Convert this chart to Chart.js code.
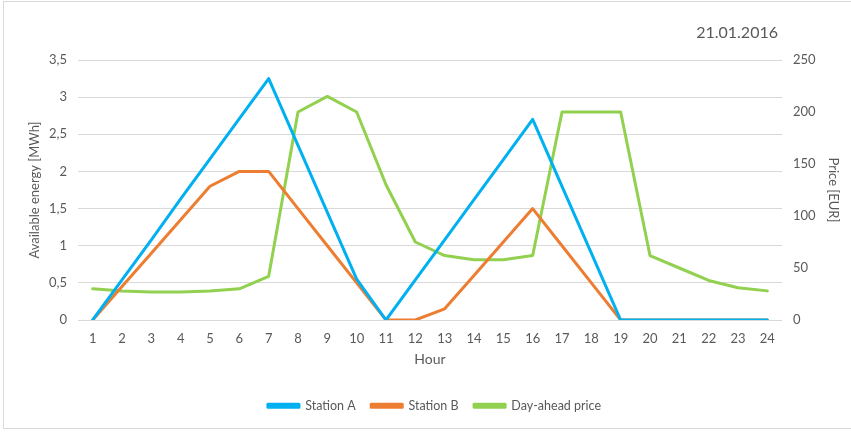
<!DOCTYPE html>
<html>
<head>
<meta charset="utf-8">
<script src="https://cdn.jsdelivr.net/npm/chart.js@4.4.1/dist/chart.umd.min.js"></script>
<style>
  html, body { margin: 0; padding: 0; background: #fff; }
  #wrap { position: relative; width: 851px; height: 432px; overflow: hidden; }
  #frame { position: absolute; left: 3px; top: 1px; width: 900px; height: 428px; border: 1px solid #d9d9d9; box-sizing: border-box; pointer-events: none; }
  #date { position: absolute; right: 73px; top: 22px; font-family: Lato, "Open Sans", sans-serif; font-size: 16px; color: #595959; }
  canvas { position: absolute; left: 0; top: 0; }
</style>
</head>
<body>
<div id="wrap">
  <div id="frame"></div>
  <canvas id="c" width="851" height="432"></canvas>
  <div id="date">21.01.2016</div>
</div>
<script>
// Hours of the day
const hours = ['1','2','3','4','5','6','7','8','9','10','11','12','13','14','15','16','17','18','19','20','21','22','23','24'];
// Available energy per station [MWh]
const stationA = [0, 0.54, 1.08, 1.63, 2.17, 2.71, 3.25, 2.35, 1.45, 0.55, 0, 0.54, 1.08, 1.62, 2.16, 2.7, 1.8, 0.9, 0, 0, 0, 0, 0, 0];
const stationB = [0, 0.45, 0.9, 1.35, 1.8, 2.0, 2.0, 1.5, 1.0, 0.5, 0, 0, 0.15, 0.6, 1.05, 1.5, 1.0, 0.5, 0, 0, 0, 0, 0, 0];
// Day-ahead price [EUR]
const dayAheadPrice = [30, 28, 27, 27, 28, 30, 42, 200, 215, 200, 130, 75, 62, 58, 58, 62, 200, 200, 200, 62, 50, 38, 31, 28];

const FONT = 'Lato, "Open Sans", sans-serif';
const TEXT = '#595959';
const GRID = '#d9d9d9';

Chart.defaults.font.family = FONT;
Chart.defaults.color = TEXT;

function line(label, data, color, axis) {
  return {
    label, data, yAxisID: axis,
    borderColor: color, backgroundColor: color,
    borderWidth: 3, pointRadius: 0, tension: 0, fill: false,
    borderJoinStyle: 'round', borderCapStyle: 'round'
  };
}

new Chart(document.getElementById('c'), {
  type: 'line',
  data: {
    labels: hours,
    datasets: [
      line('Station A', stationA, '#00b0f0', 'y'),
      line('Station B', stationB, '#ed7d31', 'y'),
      line('Day-ahead price', dayAheadPrice, '#92d050', 'y1')
    ]
  },
  options: {
    responsive: false,
    animation: false,
    layout: { padding: { top: 60, bottom: 10, left: 18, right: 0 } },
    plugins: {
      tooltip: { enabled: false },
      legend: {
        position: 'bottom',
        labels: { boxWidth: 31, boxHeight: 3, font: { size: 12.5 }, color: TEXT, padding: 15.5 }
      }
    },
    scales: {
      x: {
        offset: true,
        grid: { display: false, drawTicks: false },
        border: { display: false },
        ticks: { font: { size: 13 }, padding: 11, maxRotation: 0, autoSkip: false },
        title: { display: true, text: 'Hour', font: { size: 14 }, padding: { top: 2, bottom: 16 } },
        afterFit: s => { s.height = 64; }
      },
      y: {
        position: 'left',
        min: 0, max: 3.5,
        ticks: { stepSize: 0.5, font: { size: 13 }, padding: 11,
          callback: v => String(v).replace('.', ',') },
        grid: { color: GRID, lineWidth: 1, drawTicks: false },
        border: { display: false },
        title: { display: true, text: 'Available energy [MWh]', font: { size: 13 }, padding: { top: 9 } },
        afterFit: s => { s.width = 60; }
      },
      y1: {
        position: 'right',
        min: 0, max: 250,
        ticks: { stepSize: 50, font: { size: 13 }, padding: 11 },
        grid: { drawOnChartArea: false, drawTicks: false },
        border: { display: false },
        title: { display: true, text: 'Price [EUR]', font: { size: 13 }, padding: { top: 10 } },
        afterFit: s => { s.width = 69; }
      }
    }
  }
});
</script>
</body>
</html>
